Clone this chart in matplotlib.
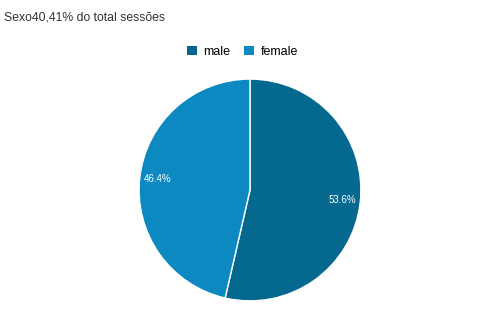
import numpy as np
import matplotlib.pyplot as plt
from matplotlib.patches import Patch

plt.rcParams['font.family'] = ['Liberation Sans', 'DejaVu Sans']

labels = ['male', 'female']
values = [53.6, 46.4]
colors = ['#05688f', '#0b89c0']

fig = plt.figure(figsize=(5, 3.14), dpi=100)
fig.patch.set_facecolor('white')

ax = fig.add_axes([0.276, 0.035, 0.448, 0.72])
wedges, texts = ax.pie(values, colors=colors, startangle=90, counterclock=False,
                       wedgeprops={'edgecolor': 'white', 'linewidth': 1})
for w, v in zip(wedges, values):
    ang = np.deg2rad((w.theta1 + w.theta2) / 2)
    ax.text(0.84 * np.cos(ang), 0.84 * np.sin(ang), f'{v}%', ha='center', va='center',
            color='white', fontsize=7)
ax.set_xlim(-1.01, 1.01)
ax.set_ylim(-1.01, 1.01)
ax.set_aspect('equal')

fig.text(0.008, 0.945, 'Sexo40,41% do total sessões', fontsize=8.8, color='#333333',
         ha='left', va='center')

handles = [Patch(facecolor=c, label=l) for c, l in zip(colors, labels)]
fig.legend(handles=handles, loc='center', bbox_to_anchor=(0.485, 0.835), ncol=2, frameon=False,
           fontsize=9, handlelength=0.8, handleheight=0.8, handletextpad=0.5, columnspacing=1.1)

fig.savefig('out.png', dpi=100)
